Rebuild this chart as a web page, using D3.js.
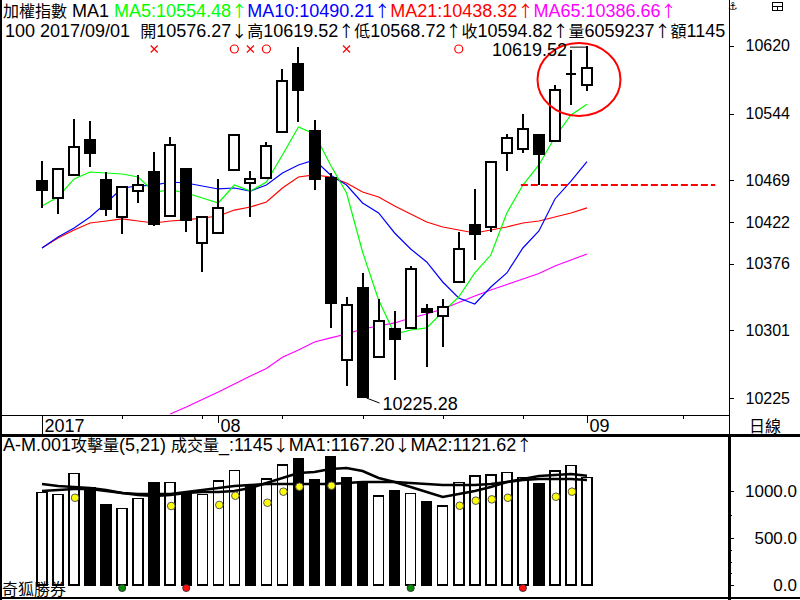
<!DOCTYPE html>
<html>
<head>
<meta charset="utf-8">
<script src="https://cdn.jsdelivr.net/npm/d3@7"></script>
<style>
  body { margin: 0; background: #fff; }
  svg { display: block; }
  text { white-space: pre; }
</style>
</head>
<body>
<svg id="chart" width="800" height="600"></svg>
<script>
// 2017/07/17 .. 2017/09/01, one candle per trading day
const dates = ['2017/07/17','2017/07/18','2017/07/19','2017/07/20','2017/07/21','2017/07/24','2017/07/25',
  '2017/07/26','2017/07/27','2017/07/28','2017/07/31','2017/08/01','2017/08/02','2017/08/03','2017/08/04',
  '2017/08/07','2017/08/08','2017/08/09','2017/08/10','2017/08/11','2017/08/14','2017/08/15','2017/08/16',
  '2017/08/17','2017/08/18','2017/08/21','2017/08/22','2017/08/23','2017/08/24','2017/08/25','2017/08/28',
  '2017/08/29','2017/08/30','2017/08/31','2017/09/01']

const open  = [10468.4,10449.4,10475.2,10514.4,10469.5,10428.1,10457.2,10478.5,10429.2,10481.9,10399.0,10410.2,
  10480.8,10466.2,10471.8,10523.3,10599.5,10524.4,10471.8,10267.9,10348.6,10271.3,10302.6,10303.8,10325.0,
  10317.2,10355.3,10419.1,10416.9,10499.8,10504.3,10519.9,10513.3,10588.3,10576.27]
const high  = [10490.8,10481.9,10537.9,10535.6,10478.5,10461.7,10475.2,10500.9,10517.7,10481.9,10428.1,10470.7,
  10519.9,10479.6,10512.1,10593.9,10618.6,10536.8,10477.4,10338.5,10365.4,10336.3,10322.8,10373.2,10330.6,
  10336.3,10411.3,10459.5,10489.7,10521.1,10543.5,10519.9,10575.9,10615.2,10619.52]
const low   = [10438.2,10431.5,10475.2,10484.1,10429.2,10409.1,10443.8,10418.0,10429.2,10411.3,10366.5,10410.2,
  10480.8,10428.1,10471.8,10523.3,10534.5,10458.4,10303.8,10238.8,10225.28,10271.3,10245.5,10303.8,10260.1,
  10282.5,10355.3,10379.9,10411.3,10479.6,10499.8,10463.9,10513.3,10553.6,10568.72]
const close = [10458.4,10481.9,10506.5,10499.8,10437.1,10461.7,10463.9,10420.3,10508.8,10424.8,10428.1,10438.2,
  10519.9,10470.7,10507.6,10580.5,10570.4,10470.7,10331.8,10329.5,10226.0,10311.6,10291.4,10369.9,10321.7,
  10327.3,10392.3,10409.1,10489.7,10516.6,10526.7,10498.7,10570.4,10588.3,10594.82]

const ma5  = [10440.4,10450.5,10470.7,10478.5,10477.4,10476.3,10472.9,10456.1,10458.4,10455.0,10449.4,10443.8,
  10463.9,10457.2,10467.3,10497.6,10528.9,10521.1,10486.4,10455.0,10388.9,10335.1,10297.0,10301.5,10303.8,
  10321.7,10338.5,10365.4,10385.5,10432.6,10463.9,10486.4,10517.7,10542.4,10554.48]
const ma10 = [10393.4,10405.7,10415.8,10428.1,10443.8,10460.6,10462.8,10463.9,10467.3,10466.2,10462.8,10459.5,
  10460.6,10457.2,10463.9,10477.4,10486.4,10491.9,10475.2,10463.9,10443.8,10432.6,10410.2,10392.3,10377.7,
  10355.3,10337.4,10330.6,10349.7,10365.4,10393.4,10412.4,10448.3,10468.4,10490.21]
const ma21 = [10393.4,10404.6,10413.5,10421.4,10423.6,10425.9,10423.6,10421.4,10423.6,10424.8,10427.0,10429.2,
  10435.9,10439.3,10444.9,10460.6,10472.9,10475.2,10472.9,10466.2,10456.1,10450.5,10440.4,10431.5,10422.5,
  10416.9,10413.5,10410.2,10413.5,10416.9,10421.4,10423.6,10428.1,10432.6,10438.32]
const ma65 = [null,null,null,null,null,null,null,null,10207.4,10215.3,10223.7,10232.1,10241.0,10250.0,10258.4,
  10270.9,10279.1,10288.1,10292.6,10297.0,10302.6,10306.0,10309.4,10315.0,10319.4,10325.0,10332.3,10339.6,
  10346.3,10352.5,10358.7,10364.8,10373.2,10379.9,10386.66]

// 攻擊量 panel
const vol = [989,968,1192,1038,854,818,925,1088,1096,989,968,1110,1224,1074,1131,1280,1344,1120,1366,1145,
  1102,950,1003,978,889,843,1096,1163,1174,1202,1145,1078,1216,1277,1145]
const volDown = [0,0,0,1,1,0,0,1,0,1,0,0,0,1,0,0,1,1,1,1,1,0,1,0,1,0,0,0,0,0,0,1,0,0,0]
const volMa1 = [1003,1014,1024,1024,1003,982,960,950,960,982,992,992,1003,1035,1088,1142,1195,1206,1238,1248,
  1216,1142,1099,1046,992,939,971,1003,1046,1099,1131,1163,1174,1184,1167.20]
const volMa2 = [1078,1056,1046,1035,1014,982,971,971,971,992,1014,1035,1056,1067,1078,1078,1078,1078,1078,1088,
  1099,1099,1099,1088,1078,1067,1067,1067,1078,1099,1120,1131,1131,1131,1121.62]
const attackIdx = [2,8,11,12,14,15,16,18,26,27,28,29,32,33]
const attackVal = [931,843,854,953,878,996,1049,1060,846,900,914,931,942,996]
const buyIdx = [5,23]
const sellIdx = [9,30]

const signalIdx  = [7,12,13,14,19,26]
const signalType = ['x','o','x','o','x','o']

const priceTicks = [10620,10544,10469,10422,10376,10301,10225]
const volTicks = [0,500,1000]
const volMinorTicks = [125,250,375,750]
const supportLevel = 10463.9, supportFrom = 30, supportTo = 42
const focusIdx = 33.5, focusPrice = 10582.1
const lastShares = 6059237

const GREEN = '#00ff00', BLUE = '#0000ff', RED = '#ff0000', MAGENTA = '#ff00ff'
const n = close.length, L = n - 1
const svg = d3.select('#chart')

const x = d3.scaleLinear().domain([0, L]).range([42, 587])
const y = d3.scaleLinear().domain([10225, 10620]).range([398.3, 45.7])
const yv = d3.scaleLinear().domain([0, 1000]).range([585, 491.3])

const defs = svg.append('defs')
defs.append('clipPath').attr('id', 'mainClip').append('rect').attr('x', 1).attr('y', 0).attr('width', 728).attr('height', 415)
defs.append('clipPath').attr('id', 'volClip').append('rect').attr('x', 1).attr('y', 437).attr('width', 728).attr('height', 160)

// mixed latin / CJK text, CJK & arrows use full-width font
function rich (sel, str, size) {
  const re = /[\u2190-\u21ff\u3000-\u9fff\uff00-\uffef]+|[^\u2190-\u21ff\u3000-\u9fff\uff00-\uffef]+/g
  str.match(re).forEach(run => {
    const cjk = /[\u2190-\u21ff\u3000-\u9fff\uff00-\uffef]/.test(run)
    sel.append('tspan')
      .attr('font-family', cjk ? '"Noto Sans CJK TC"' : '"Liberation Sans", Arial')
      .attr('font-size', cjk ? 16 : size)
      .text(run)
  })
  return sel
}

// ---------- main price panel ----------
const main = svg.append('g').attr('clip-path', 'url(#mainClip)')

const lineOf = arr => d3.line().defined(d => d != null).x((d, i) => x(i)).y(d => y(d))(arr)
;[[ma65, MAGENTA], [ma21, RED], [ma10, BLUE], [ma5, GREEN]].forEach(([arr, c]) => {
  main.append('path').attr('d', lineOf(arr)).attr('fill', 'none').attr('stroke', c).attr('stroke-width', 1.2)
})

const candles = main.append('g').attr('shape-rendering', 'crispEdges')
candles.selectAll('line').data(d3.range(n)).join('line')
  .attr('x1', i => x(i)).attr('x2', i => x(i))
  .attr('y1', i => y(high[i])).attr('y2', i => y(low[i]))
  .attr('stroke', '#000').attr('stroke-width', 2)
candles.selectAll('rect').data(d3.range(n)).join('rect')
  .attr('x', i => x(i) - 5).attr('width', 10)
  .attr('y', i => close[i] === open[i] ? y(close[i]) - 1 : y(Math.max(open[i], close[i])))
  .attr('height', i => close[i] === open[i] ? 2 : Math.abs(y(open[i]) - y(close[i])))
  .attr('fill', i => close[i] > open[i] ? '#fff' : '#000')
  .attr('stroke', '#000').attr('stroke-width', i => close[i] === open[i] ? 0 : 2)

// support dashed line
main.append('line')
  .attr('x1', x(supportFrom) - 2).attr('x2', x(supportTo))
  .attr('y1', y(supportLevel)).attr('y2', y(supportLevel))
  .attr('stroke', RED).attr('stroke-width', 2).attr('stroke-dasharray', '7,3')

// focus ellipse around the last candles
main.append('ellipse')
  .attr('cx', x(focusIdx)).attr('cy', y(focusPrice)).attr('rx', 41.5).attr('ry', 36.5)
  .attr('fill', 'none').attr('stroke', RED).attr('stroke-width', 2)

// buy / sell signal marks
signalIdx.forEach((i, k) => {
  const cx = x(i), cy = 49
  if (signalType[k] === 'o') {
    main.append('circle').attr('cx', cx).attr('cy', cy).attr('r', 4)
      .attr('fill', 'none').attr('stroke', RED).attr('stroke-width', 1.2)
  } else {
    main.append('path').attr('d', `M${cx - 3.5},${cy - 3.5}L${cx + 3.5},${cy + 3.5}M${cx + 3.5},${cy - 3.5}L${cx - 3.5},${cy + 3.5}`)
      .attr('stroke', RED).attr('stroke-width', 1.2)
  }
})

// highest / lowest labels
const hiI = d3.maxIndex(high), loI = d3.minIndex(low)
main.append('line').attr('x1', x(hiI) - 17).attr('x2', x(hiI))
  .attr('y1', y(high[hiI]) + 1).attr('y2', y(high[hiI]) + 1).attr('stroke', '#000').attr('stroke-width', 1)
main.append('text').attr('x', x(hiI) - 20).attr('y', y(high[hiI]) + 9.5).attr('text-anchor', 'end')
  .attr('font-family', '"Liberation Sans", Arial').attr('font-size', 18).text(high[hiI].toFixed(2))
main.append('line').attr('x1', x(loI) + 4).attr('x2', x(loI) + 17)
  .attr('y1', y(low[loI])).attr('y2', y(low[loI]) + 5).attr('stroke', '#000').attr('stroke-width', 1)
main.append('text').attr('x', x(loI) + 20).attr('y', y(low[loI]) + 11.5)
  .attr('font-family', '"Liberation Sans", Arial').attr('font-size', 18).text(low[loI].toFixed(2))

// header texts
const head1 = main.append('text').attr('x', 3).attr('y', 17)
rich(head1.append('tspan'), '加權指數 MA1 ', 18)
;[['MA5', ma5, GREEN], ['MA10', ma10, BLUE], ['MA21', ma21, RED], ['MA65', ma65, MAGENTA]].forEach(([name, arr, c]) => {
  const up = arr[L] >= arr[L - 1] ? '↑' : '↓'
  rich(head1.append('tspan').attr('fill', c), `${name}:${arr[L].toFixed(2)}${up}`, 18)
})
const head2 = main.append('text').attr('x', 5).attr('y', 36.5)
rich(head2, `100 ${dates[L]}  開${open[L].toFixed(2)}↓高${high[L].toFixed(2)}↑低${low[L].toFixed(2)}↑收${close[L].toFixed(2)}↑量${lastShares}↑額${vol[L]}`, 18)

// ---------- time axis ----------
const axisG = svg.append('g').attr('shape-rendering', 'crispEdges')
axisG.append('line').attr('x1', 0).attr('x2', 729).attr('y1', 415.5).attr('y2', 415.5).attr('stroke', '#000')
const monthIdx = d3.range(n).filter(i => i === 0 || dates[i].slice(5, 7) !== dates[i - 1].slice(5, 7))
d3.range(0, 43, 5).filter(i => !monthIdx.some(m => i > m && i - m < 3)).forEach(i => {
  axisG.append('line').attr('x1', Math.round(x(i)) + 0.5).attr('x2', Math.round(x(i)) + 0.5)
    .attr('y1', 415).attr('y2', 419).attr('stroke', '#000')
})
monthIdx.forEach(i => {
  const xx = Math.round(x(i)) + 0.5
  axisG.append('line').attr('x1', xx).attr('x2', xx).attr('y1', 415).attr('y2', i === 0 ? 435 : 423).attr('stroke', '#000')
  svg.append('text').attr('x', xx + 2).attr('y', 431.5)
    .attr('font-family', '"Liberation Sans", Arial').attr('font-size', 18)
    .text(i === 0 ? dates[i].slice(0, 4) : dates[i].slice(5, 7))
})

// ---------- volume / attack panel ----------
const vg = svg.append('g').attr('clip-path', 'url(#volClip)')
vg.append('g').attr('shape-rendering', 'crispEdges')
  .selectAll('rect').data(d3.range(n)).join('rect')
  .attr('x', i => x(i) - 5).attr('width', 10)
  .attr('y', i => yv(vol[i])).attr('height', i => yv(0) - yv(vol[i]))
  .attr('fill', i => volDown[i] ? '#000' : '#fff').attr('stroke', '#000').attr('stroke-width', 1.5)
;[volMa1, volMa2].forEach(arr => {
  vg.append('path').attr('d', d3.line().x((d, i) => x(i)).y(d => yv(d))(arr))
    .attr('fill', 'none').attr('stroke', '#000').attr('stroke-width', 2.5)
})
vg.selectAll('circle.att').data(attackIdx).join('circle').attr('class', 'att')
  .attr('cx', i => x(i) + 1).attr('cy', (i, k) => yv(attackVal[k])).attr('r', 3.8)
  .attr('fill', '#ffff00').attr('stroke', '#555').attr('stroke-width', 1)
vg.selectAll('circle.buy').data(buyIdx).join('circle').attr('class', 'buy')
  .attr('cx', i => x(i)).attr('cy', 588).attr('r', 3.6)
  .attr('fill', '#0a8a0a').attr('stroke', '#222').attr('stroke-width', 0.8)
vg.selectAll('circle.sell').data(sellIdx).join('circle').attr('class', 'sell')
  .attr('cx', i => x(i)).attr('cy', 588).attr('r', 3.6)
  .attr('fill', '#ff1010').attr('stroke', '#222').attr('stroke-width', 0.8)

const vHead = svg.append('text').attr('x', 3).attr('y', 450.5)
rich(vHead, `A-M.001攻擊量(5,21) 成交量_:${vol[L]}↓MA1:${volMa1[L].toFixed(2)}↓MA2:${volMa2[L].toFixed(2)}↑`, 18)
rich(svg.append('text').attr('x', 2).attr('y', 595), '奇狐勝券', 18)

// ---------- right axis panel ----------
const ra = svg.append('g').attr('shape-rendering', 'crispEdges')
ra.append('line').attr('x1', 729.5).attr('x2', 729.5).attr('y1', 0).attr('y2', 437).attr('stroke', '#000')
priceTicks.forEach(t => {
  ra.append('line').attr('x1', 729).attr('x2', 734).attr('y1', Math.round(y(t)) + 0.5).attr('y2', Math.round(y(t)) + 0.5).attr('stroke', '#000')
  svg.append('text').attr('x', 790).attr('y', y(t)).attr('dy', '0.36em').attr('text-anchor', 'end')
    .attr('font-family', '"Liberation Sans", Arial').attr('font-size', 16).text(t)
})
volTicks.forEach(t => {
  ra.append('line').attr('x1', 729).attr('x2', 734).attr('y1', Math.round(yv(t)) + 0.5).attr('y2', Math.round(yv(t)) + 0.5).attr('stroke', '#000')
  svg.append('text').attr('x', 797).attr('y', yv(t)).attr('dy', '0.36em').attr('text-anchor', 'end')
    .attr('font-family', '"Liberation Sans", Arial').attr('font-size', 17).text(t.toFixed(1))
})
volMinorTicks.forEach(t => {
  ra.append('line').attr('x1', 729).attr('x2', 732).attr('y1', Math.round(yv(t)) + 0.5).attr('y2', Math.round(yv(t)) + 0.5).attr('stroke', '#000')
})
rich(svg.append('text').attr('x', 749).attr('y', 432), '日線', 16)

// toolbar icons
svg.append('text').attr('x', 728).attr('y', 10).attr('font-family', '"DejaVu Sans"').attr('font-size', 11).text('⚓')
ra.append('rect').attr('x', 772.5).attr('y', 2.5).attr('width', 10).attr('height', 8).attr('fill', 'none').attr('stroke', '#000')
ra.append('path').attr('d', 'M772.5,6.5H782.5M777.5,6.5V10.5').attr('stroke', '#000').attr('fill', 'none')

// frames
const fr = svg.append('g').attr('shape-rendering', 'crispEdges').attr('fill', 'none').attr('stroke', '#000')
fr.append('line').attr('x1', 1).attr('x2', 1).attr('y1', 0).attr('y2', 600).attr('stroke-width', 2)
fr.append('line').attr('x1', 0).attr('x2', 800).attr('y1', 435.5).attr('y2', 435.5).attr('stroke-width', 2.5)
fr.append('line').attr('x1', 0).attr('x2', 800).attr('y1', 598).attr('y2', 598).attr('stroke-width', 2.5)
fr.append('line').attr('x1', 729.5).attr('x2', 729.5).attr('y1', 436).attr('y2', 600).attr('stroke-width', 2.5)
</script>
</body>
</html>
